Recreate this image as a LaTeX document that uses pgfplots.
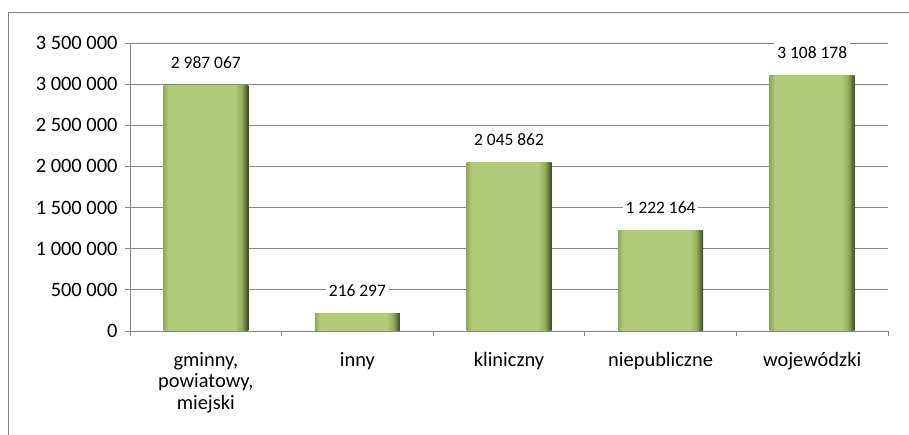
\documentclass[border=0pt]{standalone}
\usepackage{fontspec}
\setmainfont{Carlito}
\usepackage{pgfplots}
\pgfplotsset{compat=1.18}
\definecolor{gridgray}{HTML}{868686}
\definecolor{bL}{HTML}{90A75B}
\definecolor{bM}{HTML}{B2CB78}
\definecolor{bR1}{HTML}{98AE5E}
\definecolor{bR2}{HTML}{3E4A22}
\pgfdeclarehorizontalshading{barshade}{100bp}{color(0bp)=(bL); color(25bp)=(bL); color(28bp)=(bM); color(67bp)=(bM); color(71bp)=(bR1); color(75bp)=(bR2); color(100bp)=(bR2)}
\pgfplotsset{
  greenbar/.style={draw=none, shading=barshade, bar shift=0pt,
    point meta=explicit symbolic, nodes near coords,
    every node near coord/.append style={fill=white, inner sep=3bp, yshift=13.5bp,
      font=\fontsize{17.5}{20}\selectfont, text=black}},
}

\begin{document}
\begin{tikzpicture}[x=1bp,y=1bp]
\path[use as bounding box] (0,0) rectangle (909,435);
\draw[gridgray, line width=0.75bp] (8,0) -- (8,423) -- (909,423);
\begin{axis}[
  at={(130bp,104bp)}, anchor=south west,
  scale only axis, width=758bp, height=288bp,
  xmin=-0.5, xmax=4.5, ymin=0, ymax=3500000,
  scaled y ticks=false,
  axis x line*=bottom, axis y line*=left,
  axis line style={gridgray, line width=0.75bp},
  ymajorgrids, grid style={gridgray, line width=0.75bp},
  tick style={gridgray, line width=0.75bp},
  tick align=outside, major tick length=5bp,
  ytick={0,500000,1000000,1500000,2000000,2500000,3000000,3500000},
  yticklabels={0,500 000,1 000 000,1 500 000,2 000 000,2 500 000,3 000 000,3 500 000},
  xtick={-0.5,0.5,1.5,2.5,3.5,4.5},
  x tick label as interval,
  xticklabels={{gminny,\\powiatowy,\\miejski},inny,kliniczny,niepubliczne,wojewódzki},
  tick label style={font=\fontsize{20.5}{21.5}\selectfont, black},
  xticklabel style={align=center, anchor=north, yshift=-13bp},
  yticklabel style={xshift=-4bp},
  ybar, bar width=85bp,
]
  \addplot[greenbar] coordinates {(0,2987067) [2~987~067]};
  \addplot[greenbar] coordinates {(1,216297) [216~297]};
  \addplot[greenbar] coordinates {(2,2045862) [2~045~862]};
  \addplot[greenbar] coordinates {(3,1222164) [1~222~164]};
  \addplot[greenbar] coordinates {(4,3108178) [3~108~178]};
\end{axis}
\end{tikzpicture}
\end{document}
